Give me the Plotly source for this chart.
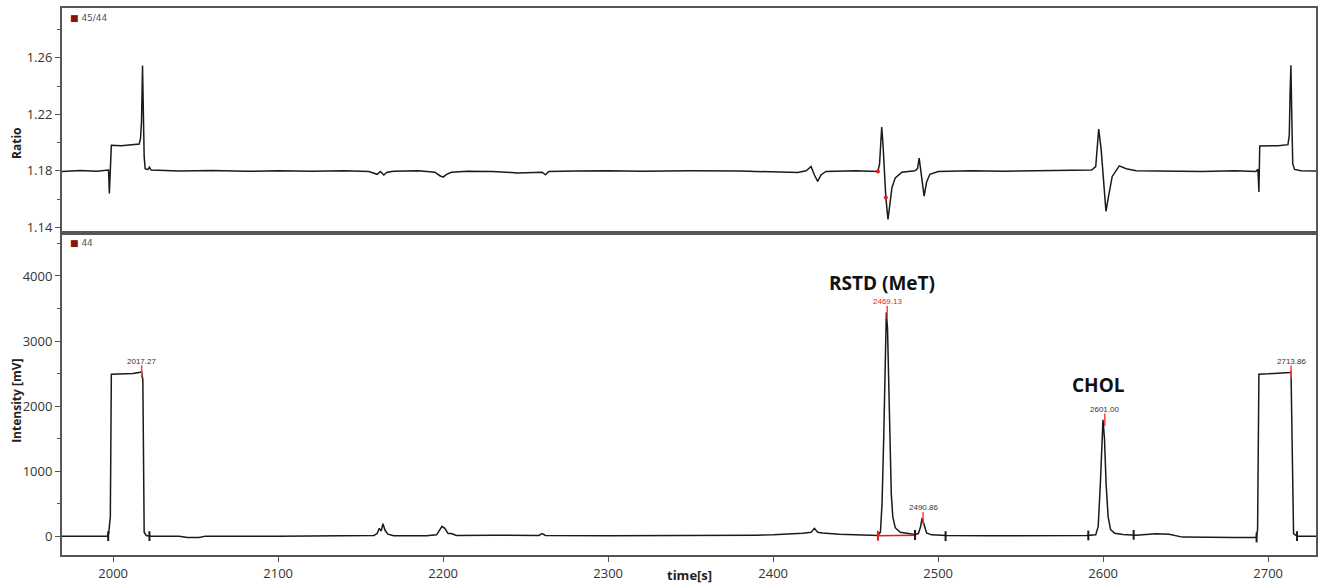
import plotly.graph_objects as go
from plotly.subplots import make_subplots

# ---------------- data ----------------
# top panel: isotope ratio 45/44
ratio_t = [1969, 1980, 1990, 1996, 1997.2, 1997.7, 1998.3, 1998.9, 2005, 2012, 2015.8, 2016.6,
           2017.2, 2017.8, 2018.3, 2018.8, 2019.4, 2021, 2022, 2023, 2040, 2060, 2080, 2100,
           2120, 2140, 2155, 2160, 2162, 2164, 2166, 2170, 2185, 2195, 2198, 2200, 2202, 2205,
           2215, 2230, 2245, 2260, 2262, 2264, 2280, 2300, 2320, 2350, 2380, 2400, 2410, 2415,
           2420, 2423, 2425, 2427, 2429, 2432, 2450, 2463.5, 2464.5, 2465.2, 2465.8, 2466.5,
           2467.3, 2468.3, 2469.6, 2470.6, 2472, 2474, 2478, 2486, 2487.5, 2488.5, 2489.8,
           2491.5, 2493, 2495, 2500, 2520, 2540, 2560, 2580, 2593, 2595.5, 2597.3, 2598.8,
           2600.3, 2601.7, 2603.3, 2605.5, 2609.8, 2614, 2620, 2640, 2660, 2680, 2692.5,
           2693.8, 2694.4, 2694.9, 2700, 2706, 2712, 2712.8, 2713.3, 2713.8, 2714.3, 2714.9,
           2716, 2720, 2729]
ratio_v = [1.1795, 1.1802, 1.1797, 1.1800, 1.1805, 1.1640, 1.1780, 1.1980, 1.1978, 1.1985,
           1.1990, 1.2030, 1.2150, 1.2545, 1.2200, 1.1900, 1.1815, 1.1808, 1.1825, 1.1805,
           1.1798, 1.1802, 1.1796, 1.1800, 1.1797, 1.1800, 1.1795, 1.1775, 1.1795, 1.1770,
           1.1790, 1.1796, 1.1800, 1.1790, 1.1765, 1.1755, 1.1775, 1.1790, 1.1797, 1.1795,
           1.1785, 1.1790, 1.1772, 1.1795, 1.1798, 1.1800, 1.1796, 1.1800, 1.1798, 1.1795,
           1.1790, 1.1788, 1.1800, 1.1830, 1.1770, 1.1725, 1.1770, 1.1795, 1.1800, 1.1795,
           1.1850, 1.2050, 1.2110, 1.2000, 1.1800, 1.1610, 1.1455, 1.1560, 1.1680, 1.1750,
           1.1790, 1.1800, 1.1815, 1.1890, 1.1780, 1.1620, 1.1720, 1.1775, 1.1795, 1.1800,
           1.1797, 1.1800, 1.1800, 1.1805, 1.1830, 1.2095, 1.1950, 1.1700, 1.1513, 1.1620,
           1.1760, 1.1835, 1.1815, 1.1800, 1.1797, 1.1795, 1.1800, 1.1795, 1.1810, 1.1650,
           1.1975, 1.1975, 1.1978, 1.1985, 1.2050, 1.2350, 1.2548, 1.2200, 1.1850, 1.1810,
           1.1800, 1.1798]
ratio_mark_t = [2463.5, 2468.3]
ratio_mark_v = [1.1795, 1.1610]

# bottom panel: intensity of m/z 44
int_t = [1969, 1990, 1996.5, 1997.3, 1998.3, 1998.9, 2005, 2012, 2016.5, 2017.27, 2018.0,
         2018.8, 2020, 2023, 2040, 2045, 2052, 2056, 2100, 2140, 2150, 2158, 2160, 2161.3,
         2162.5, 2163.5, 2164.8, 2166.5, 2170, 2190, 2196, 2198, 2199.3, 2201, 2203, 2205,
         2208, 2230, 2258, 2260, 2262, 2300, 2350, 2390, 2400, 2410, 2418, 2423, 2425, 2427,
         2430, 2440, 2455, 2463.5, 2465, 2466, 2467, 2467.8, 2468.6, 2469.3, 2470, 2470.8,
         2471.6, 2472.5, 2474, 2477, 2482, 2486, 2488, 2489.3, 2490.3, 2491.5, 2493, 2496,
         2505, 2530, 2560, 2590, 2595.5, 2597, 2598.3, 2599.2, 2599.9, 2600.8, 2601.8,
         2603, 2604.5, 2607, 2612, 2620, 2632, 2640, 2648, 2680, 2692.8, 2693.6, 2694.4,
         2700, 2708, 2713.0, 2713.86, 2714.6, 2715.4, 2717.5, 2729]
int_v = [0, 0, 0, 40, 300, 2490, 2495, 2500, 2520, 2530, 2400, 60, 10, 0, 0, -20, -20, 0, 0,
         5, 15, 10, 40, 120, 80, 190, 90, 30, 5, 5, 20, 100, 150, 120, 40, 40, 10, 15, 10, 40,
         10, 5, 5, 15, 20, 30, 45, 60, 120, 60, 50, 30, 15, 10, 60, 500, 1500, 2700, 3440,
         3200, 2400, 1400, 650, 300, 130, 60, 35, 25, 40, 140, 280, 170, 50, 20, 10, 5, 5, 10,
         20, 150, 800, 1450, 1790, 1500, 800, 300, 100, 45, 25, 15, 35, 30, -15, -20, -20,
         100, 2490, 2495, 2505, 2515, 2525, 1500, 40, 0, 0]

peak_t = [2017.27, 2469.13, 2490.86, 2601.00, 2713.86]
peak_v = [2530, 3440, 280, 1790, 2525]
peak_labels = ["2017.27", "2469.13", "2490.86", "2601.00", "2713.86"]
peak_label_colors = ["#333333", "#e8191e", "#333333", "#333333", "#333333"]

border_t = [1997, 2022, 2486, 2504.5, 2591, 2618.5, 2693, 2717.5]
border_v = [0, 0, 20, 0, 10, 20, -20, 0]
rstd_base_t = [2463.5, 2486]
rstd_base_v = [5, 15]

compound_names = ["RSTD (MeT)", "CHOL"]
compound_t = [2466, 2597]
compound_v = [3890, 2330]

top_ticks = [1.14, 1.18, 1.22, 1.26]
bottom_ticks = [0, 1000, 2000, 3000, 4000]
x_ticks = [2000, 2100, 2200, 2300, 2400, 2500, 2600, 2700]

# ---------------- figure ----------------
fig = make_subplots(rows=2, cols=1, shared_xaxes=True, vertical_spacing=0,
                    row_heights=[226, 323])

LINE = "#1a1a1a"
fig.add_trace(go.Scatter(x=ratio_t, y=ratio_v, mode="lines",
                         line=dict(color=LINE, width=1.5)), row=1, col=1)
fig.add_trace(go.Scatter(x=ratio_mark_t, y=ratio_mark_v, mode="markers",
                         marker=dict(color="#e8191e", size=4)), row=1, col=1)

fig.add_trace(go.Scatter(x=int_t, y=int_v, mode="lines",
                         line=dict(color=LINE, width=1.5)), row=2, col=1)
fig.add_trace(go.Scatter(x=rstd_base_t, y=rstd_base_v, mode="lines+markers",
                         line=dict(color="#e8191e", width=1.5),
                         marker=dict(symbol="line-ns", size=7,
                                     line=dict(color="#e8191e", width=2))), row=2, col=1)
fig.add_trace(go.Scatter(x=border_t, y=border_v, mode="markers",
                         marker=dict(symbol="line-ns", size=7,
                                     line=dict(color=LINE, width=2))), row=2, col=1)
fig.add_trace(go.Scatter(x=peak_t, y=peak_v, mode="markers",
                         marker=dict(symbol="line-ns", size=9,
                                     line=dict(color="#ff4040", width=1.5))), row=2, col=1)

for t, v, lab, c in zip(peak_t, peak_v, peak_labels, peak_label_colors):
    fig.add_annotation(x=t, y=v, xref="x2", yref="y2", text=lab, showarrow=False,
                       yanchor="bottom", yshift=4,
                       font=dict(family="Liberation Sans", size=8, color=c))

for name, t, v in zip(compound_names, compound_t, compound_v):
    fig.add_annotation(x=t, y=v, xref="x2", yref="y2", text="<b>%s</b>" % name,
                       showarrow=False, font=dict(family="Open Sans", size=19, color="#111"))

# legend-like tags
for yref, yv, label in [("y domain", 1, "45/44"), ("y2 domain", 1, "44")]:
    fig.add_annotation(xref="paper", yref=yref, x=0, y=yv, xanchor="left", yanchor="top",
                       xshift=6, yshift=-3, showarrow=False,
                       text="<span style='color:#8b1212'>■</span> " + label,
                       font=dict(family="DejaVu Sans", size=9, color="#555"))

# axis titles
fig.add_annotation(xref="paper", yref="y", x=0, y=1.199, xshift=-45, textangle=-90,
                   xanchor="center", yanchor="middle",
                   text="<b>Ratio</b>", showarrow=False,
                   font=dict(family="Open Sans", size=12, color="#222"))
fig.add_annotation(xref="paper", yref="y2", x=0, y=2080, xshift=-45, textangle=-90,
                   xanchor="center", yanchor="middle",
                   text="<b>Intensity [mV]</b>", showarrow=False,
                   font=dict(family="Open Sans", size=12, color="#222"))
fig.add_annotation(xref="paper", yref="paper", x=0.5, y=0, yshift=-20,
                   xanchor="center", yanchor="middle",
                   text="<b>time[s]</b>", showarrow=False,
                   font=dict(family="Open Sans", size=13, color="#222"))

axis_common = dict(showline=True, mirror=True, linecolor="#555", linewidth=2,
                   showgrid=False, zeroline=False)
tickfont = dict(family="Open Sans", size=13, color="#333")

fig.update_xaxes(**axis_common, range=[1969, 2729])
fig.update_xaxes(showticklabels=False, ticks="", row=1, col=1)
fig.update_xaxes(tickvals=x_ticks, ticks="outside", ticklen=5, tickcolor="#555",
                 tickfont=tickfont, row=2, col=1)
fig.update_yaxes(**axis_common)
fig.update_yaxes(range=[1.1358, 1.2953], tickvals=top_ticks, ticktext=[f"{v:.2f}" for v in top_ticks],
                 ticks="outside", ticklen=5, tickcolor="#555", tickfont=tickfont,
                 minor=dict(tickvals=[1.16, 1.20, 1.24, 1.28], ticks="outside", ticklen=3,
                            tickcolor="#555"),
                 row=1, col=1)
fig.update_yaxes(range=[-290, 4658], tickvals=bottom_ticks, ticks="outside", ticklen=5,
                 tickcolor="#555", tickfont=tickfont,
                 minor=dict(tickvals=[500, 1500, 2500, 3500, 4500], ticks="outside",
                            ticklen=3, tickcolor="#555"),
                 row=2, col=1)

fig.update_layout(width=1322, height=586, showlegend=False,
                  margin=dict(l=62, r=4, t=8, b=29),
                  plot_bgcolor="white", paper_bgcolor="white")

fig.write_html("out.html")
